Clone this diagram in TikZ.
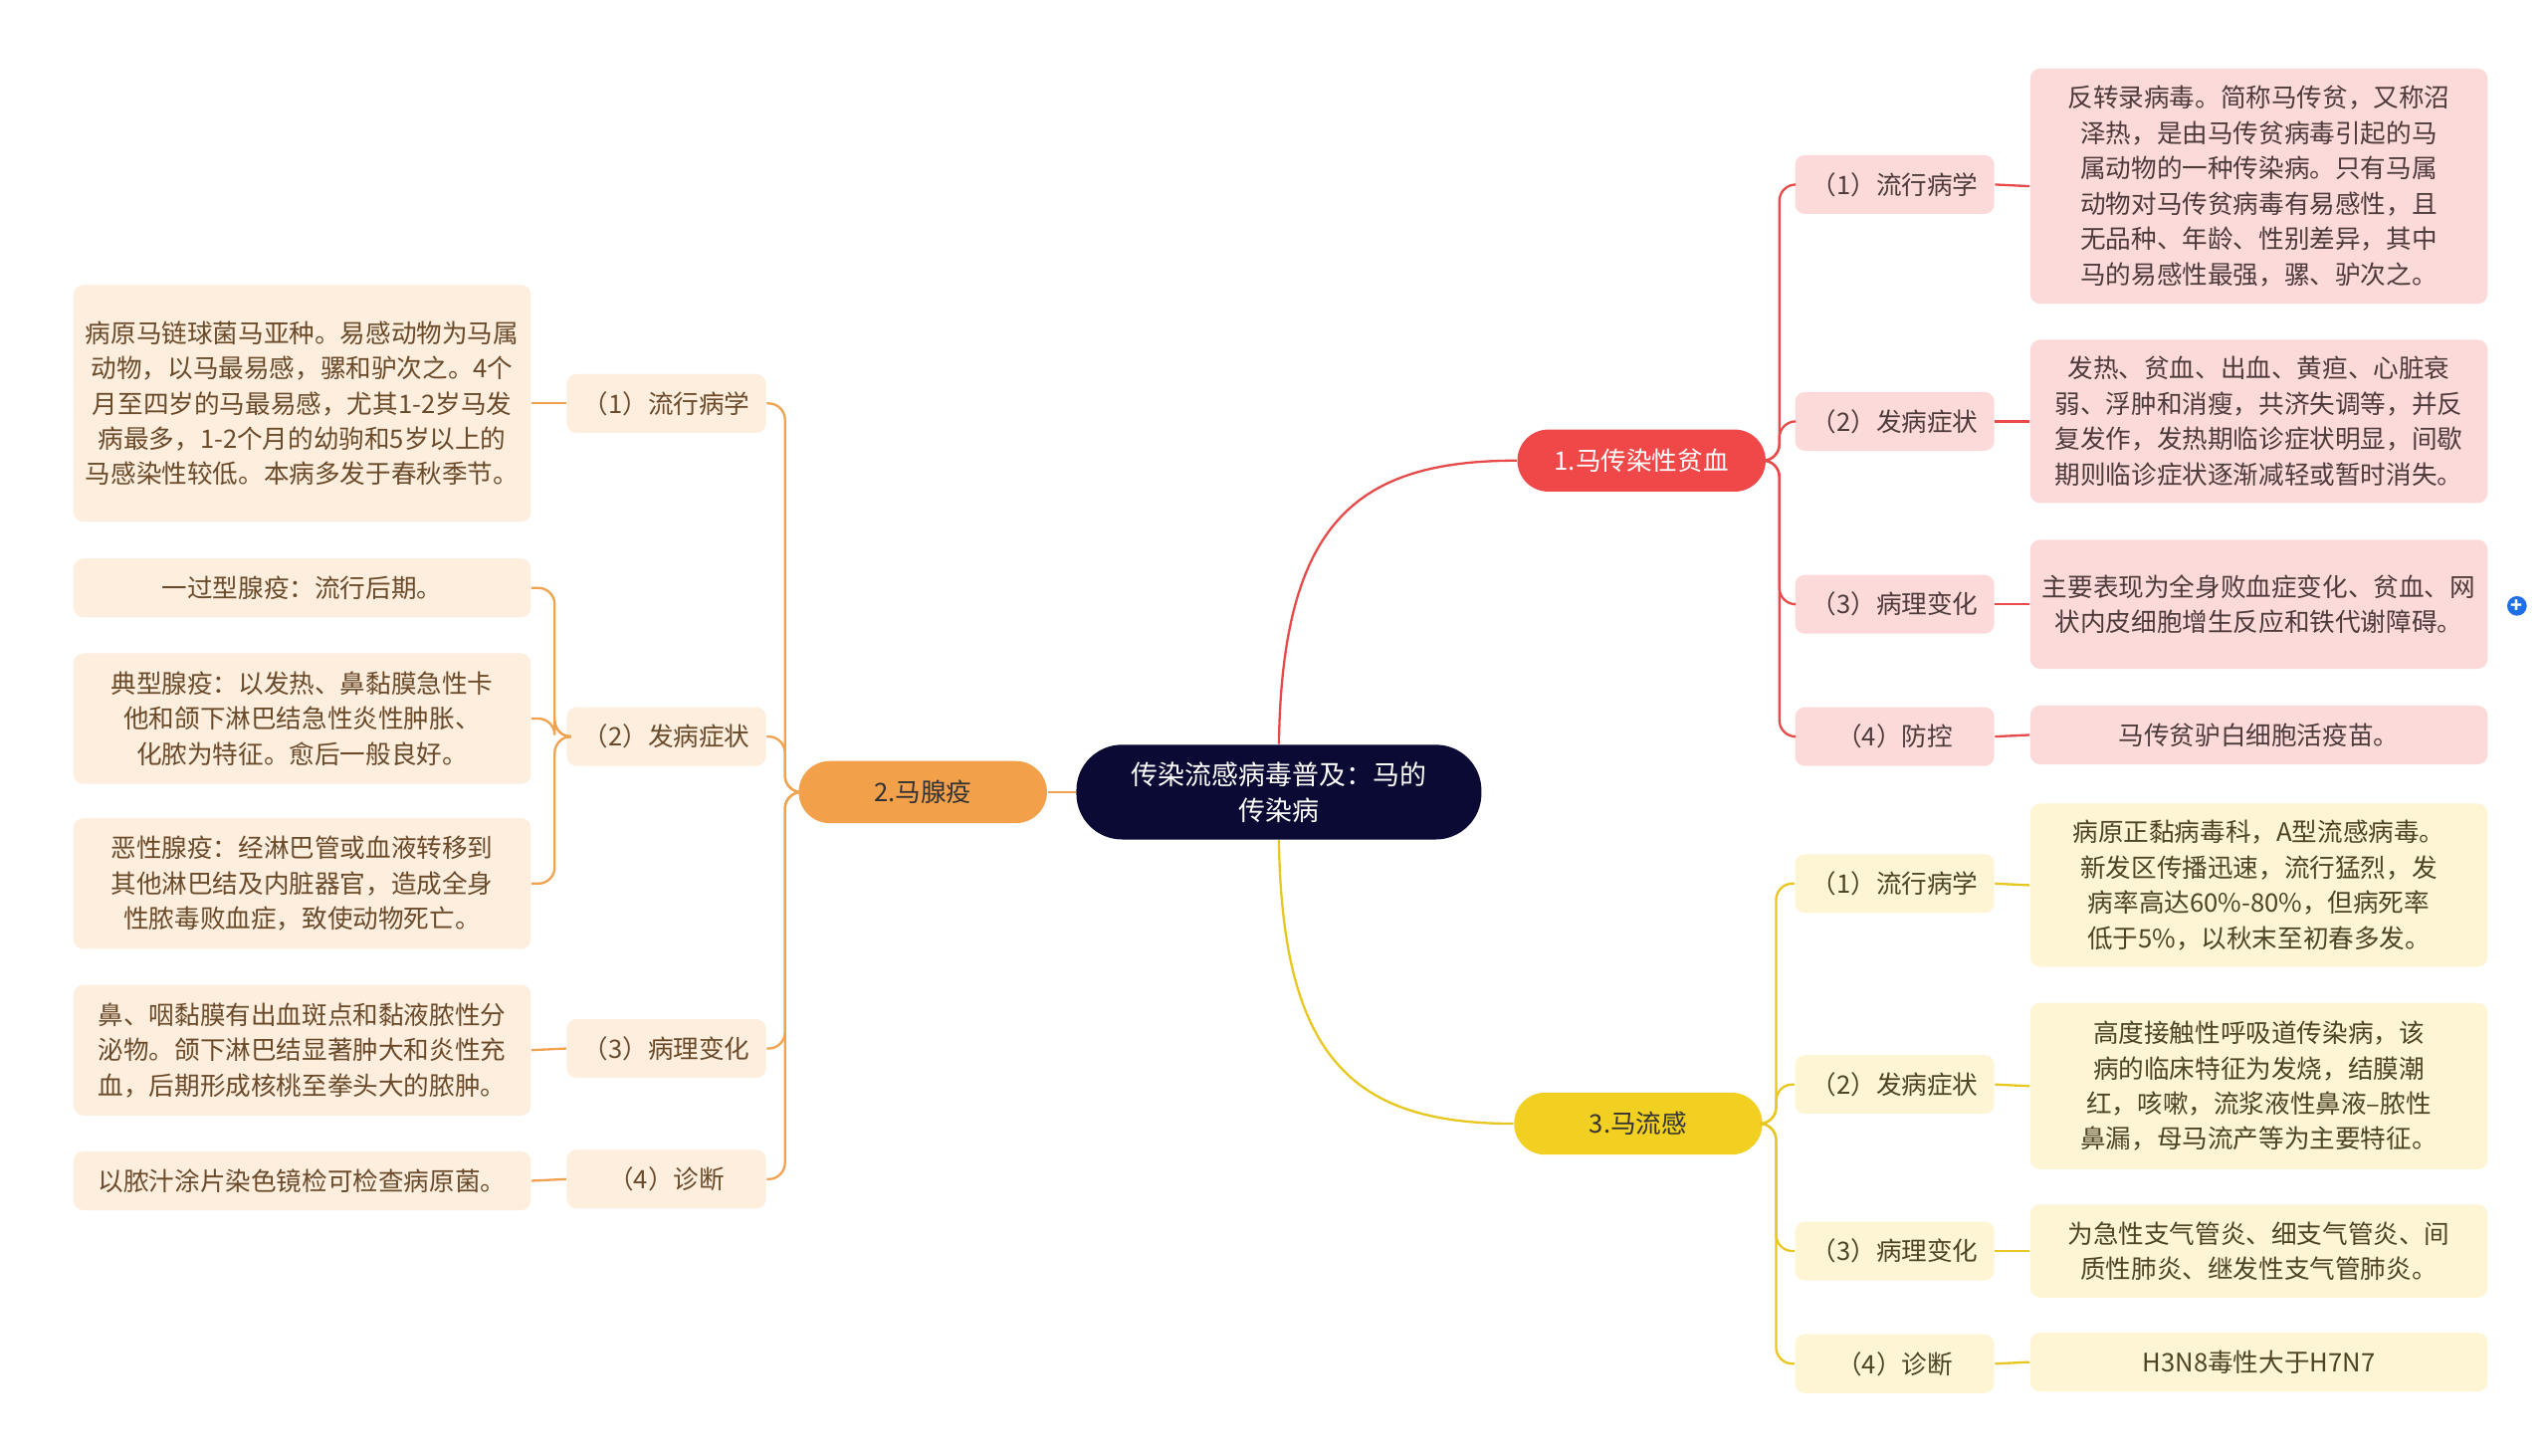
\documentclass[tikz,border=0pt]{standalone}
\usepackage{fontspec}
\setmainfont{Noto Sans CJK SC}
\XeTeXlinebreaklocale "zh"
\XeTeXlinebreakskip=0pt
\begin{document}
\begin{tikzpicture}[x=0.5pt,y=-0.5pt,
 base/.style={rounded corners=3pt,inner sep=2pt,align=center,font=\fontsize{7.8pt}{10.8pt}\selectfont},
 pinkleaf/.style={base,fill=pinkc,text=pinkt,text width=136pt},
 yelleaf/.style={base,fill=yelc,text=yelt,text width=136pt},
 orgleaf/.style={base,fill=orgc,text=orgt,text width=136pt},
 pinksub/.style={base,fill=pinkc,text=pinkt,minimum width=61pt,minimum height=18pt},
 yelsub/.style={base,fill=yelc,text=yelt,minimum width=61pt,minimum height=18pt},
 orgsub/.style={base,fill=orgc,text=orgt,minimum width=61pt,minimum height=18pt},
 branch/.style={base,rounded corners=9.5pt,minimum width=76pt,minimum height=19pt},
 rl/.style={draw=redl,line width=0.7pt,rounded corners=5pt},
 yl/.style={draw=yell,line width=0.7pt,rounded corners=5pt},
 ol/.style={draw=orgl,line width=0.7pt,rounded corners=5pt}]
\definecolor{pinkc}{HTML}{FDDADA}\definecolor{pinkt}{HTML}{4D3A3A}
\definecolor{yelc}{HTML}{FDF5D4}\definecolor{yelt}{HTML}{4D4426}
\definecolor{orgc}{HTML}{FDEEDE}\definecolor{orgt}{HTML}{6B4A2A}
\definecolor{redl}{HTML}{E84A4A}\definecolor{yell}{HTML}{E8C820}\definecolor{orgl}{HTML}{EFA350}
\useasboundingbox[fill=white] (0,0) rectangle (1560,891);
% center and branches
\node[base,rounded corners=14pt,fill={rgb,255:red,10;green,10;blue,53},text=white,minimum width=124pt,minimum height=29pt,font=\fontsize{8.2pt}{11pt}\selectfont] (c) at (783,485) {传染流感病毒普及：马的\\传染病};
\node[branch,fill={rgb,255:red,240;green,72;blue,72},text=white] (b1) at (1005,282) {1.马传染性贫血};
\node[branch,fill={rgb,255:red,242;green,160;blue,74},text=black!80] (b2) at (565,485) {2.马腺疫};
\node[branch,fill={rgb,255:red,242;green,208;blue,34},text=black!80] (b3) at (1003,688) {3.马流感};
\draw[redl,line width=0.7pt] (c.north) .. controls (785,320) and (830,282) .. (b1.west);
\draw[yell,line width=0.7pt] (c.south) .. controls (785,650) and (830,688) .. (b3.west);
\draw[orgl,line width=0.7pt] (c.west) -- (b2.east);
% branch 1
\node[pinksub] (s11) at (1160,113) {（1）流行病学};
\node[pinksub] (s12) at (1160,258) {（2）发病症状};
\node[pinksub] (s13) at (1160,370) {（3）病理变化};
\node[pinksub] (s14) at (1160,451) {（4）防控};
\node[pinkleaf,minimum height=72pt] (l11) at (1383,114) {反转录病毒。简称马传贫，又称沼泽热，是由马传贫病毒引起的马属动物的一种传染病。只有马属动物对马传贫病毒有易感性，且无品种、年龄、性别差异，其中马的易感性最强，骡、驴次之。};
\node[pinkleaf,minimum height=50pt] (l12) at (1383,258) {发热、贫血、出血、黄疸、心脏衰弱、浮肿和消瘦，共济失调等，并反复发作，发热期临诊症状明显，间歇期则临诊症状逐渐减轻或暂时消失。};
\node[pinkleaf,minimum height=39.5pt] (l13) at (1383,370) {主要表现为全身败血症变化、贫血、网状内皮细胞增生反应和铁代谢障碍。};
\node[pinkleaf,minimum height=18pt] (l14) at (1383,450) {马传贫驴白细胞活疫苗。};
\foreach \i in {1,2,3,4}{\draw[rl] (b1.east) -- ++(8,0) |- (s1\i.west); \draw[rl] (s1\i.east) -- (l1\i.west);}
\node[circle,fill={rgb,255:red,30;green,110;blue,230},text=white,inner sep=0pt,minimum size=6pt,font=\fontsize{6pt}{6pt}\selectfont\bfseries] (plus) at (1541,371) {+};
% branch 3
\node[yelsub] (s31) at (1160,541) {（1）流行病学};
\node[yelsub] (s32) at (1160,664) {（2）发病症状};
\node[yelsub] (s33) at (1160,766) {（3）病理变化};
\node[yelsub] (s34) at (1160,835) {（4）诊断};
\node[yelleaf,minimum height=50pt] (l31) at (1383,542) {病原正黏病毒科，A型流感病毒。新发区传播迅速，流行猛烈，发病率高达60\%-80\%，但病死率低于5\%，以秋末至初春多发。};
\node[yelleaf,minimum height=51pt] (l32) at (1383,665) {高度接触性呼吸道传染病，该病的临床特征为发烧，结膜潮红，咳嗽，流浆液性鼻液--脓性鼻漏，母马流产等为主要特征。};
\node[yelleaf,minimum height=28.5pt] (l33) at (1383,766) {为急性支气管炎、细支气管炎、间质性肺炎、继发性支气管肺炎。};
\node[yelleaf,minimum height=18pt] (l34) at (1383,834) {H3N8毒性大于H7N7};
\foreach \i in {1,2,3,4}{\draw[yl] (b3.east) -- ++(8,0) |- (s3\i.west); \draw[yl] (s3\i.east) -- (l3\i.west);}
% branch 2
\node[orgsub] (s21) at (408,247) {（1）流行病学};
\node[orgsub] (s22) at (408,451) {（2）发病症状};
\node[orgsub] (s23) at (408,642) {（3）病理变化};
\node[orgsub] (s24) at (408,722) {（4）诊断};
\node[orgleaf,minimum height=72.5pt] (l21) at (185,247) {病原马链球菌马亚种。易感动物为马属动物，以马最易感，骡和驴次之。4个月至四岁的马最易感，尤其1-2岁马发病最多，1-2个月的幼驹和5岁以上的马感染性较低。本病多发于春秋季节。};
\node[orgleaf,minimum height=18pt] (l22a) at (185,360) {一过型腺疫：流行后期。};
\node[orgleaf,minimum height=40pt] (l22b) at (185,440) {典型腺疫：以发热、鼻黏膜急性卡他和颌下淋巴结急性炎性肿胀、化脓为特征。愈后一般良好。};
\node[orgleaf,minimum height=40pt] (l22c) at (185,541) {恶性腺疫：经淋巴管或血液转移到其他淋巴结及内脏器官，造成全身性脓毒败血症，致使动物死亡。};
\node[orgleaf,minimum height=40pt] (l23) at (185,643) {鼻、咽黏膜有出血斑点和黏液脓性分泌物。颌下淋巴结显著肿大和炎性充血，后期形成核桃至拳头大的脓肿。};
\node[orgleaf,minimum height=18pt] (l24) at (185,723) {以脓汁涂片染色镜检可检查病原菌。};
\foreach \i in {1,2,3,4}{\draw[ol] (b2.west) -- ++(-8,0) |- (s2\i.east);}
\draw[ol] (s21.west) -- (l21.east);
\draw[ol] (s23.west) -- (l23.east);
\draw[ol] (s24.west) -- (l24.east);
\foreach \j in {a,b,c}{\draw[ol] (s22.west) -- ++(-7,0) |- (l22\j.east);}
\end{tikzpicture}
\end{document}
